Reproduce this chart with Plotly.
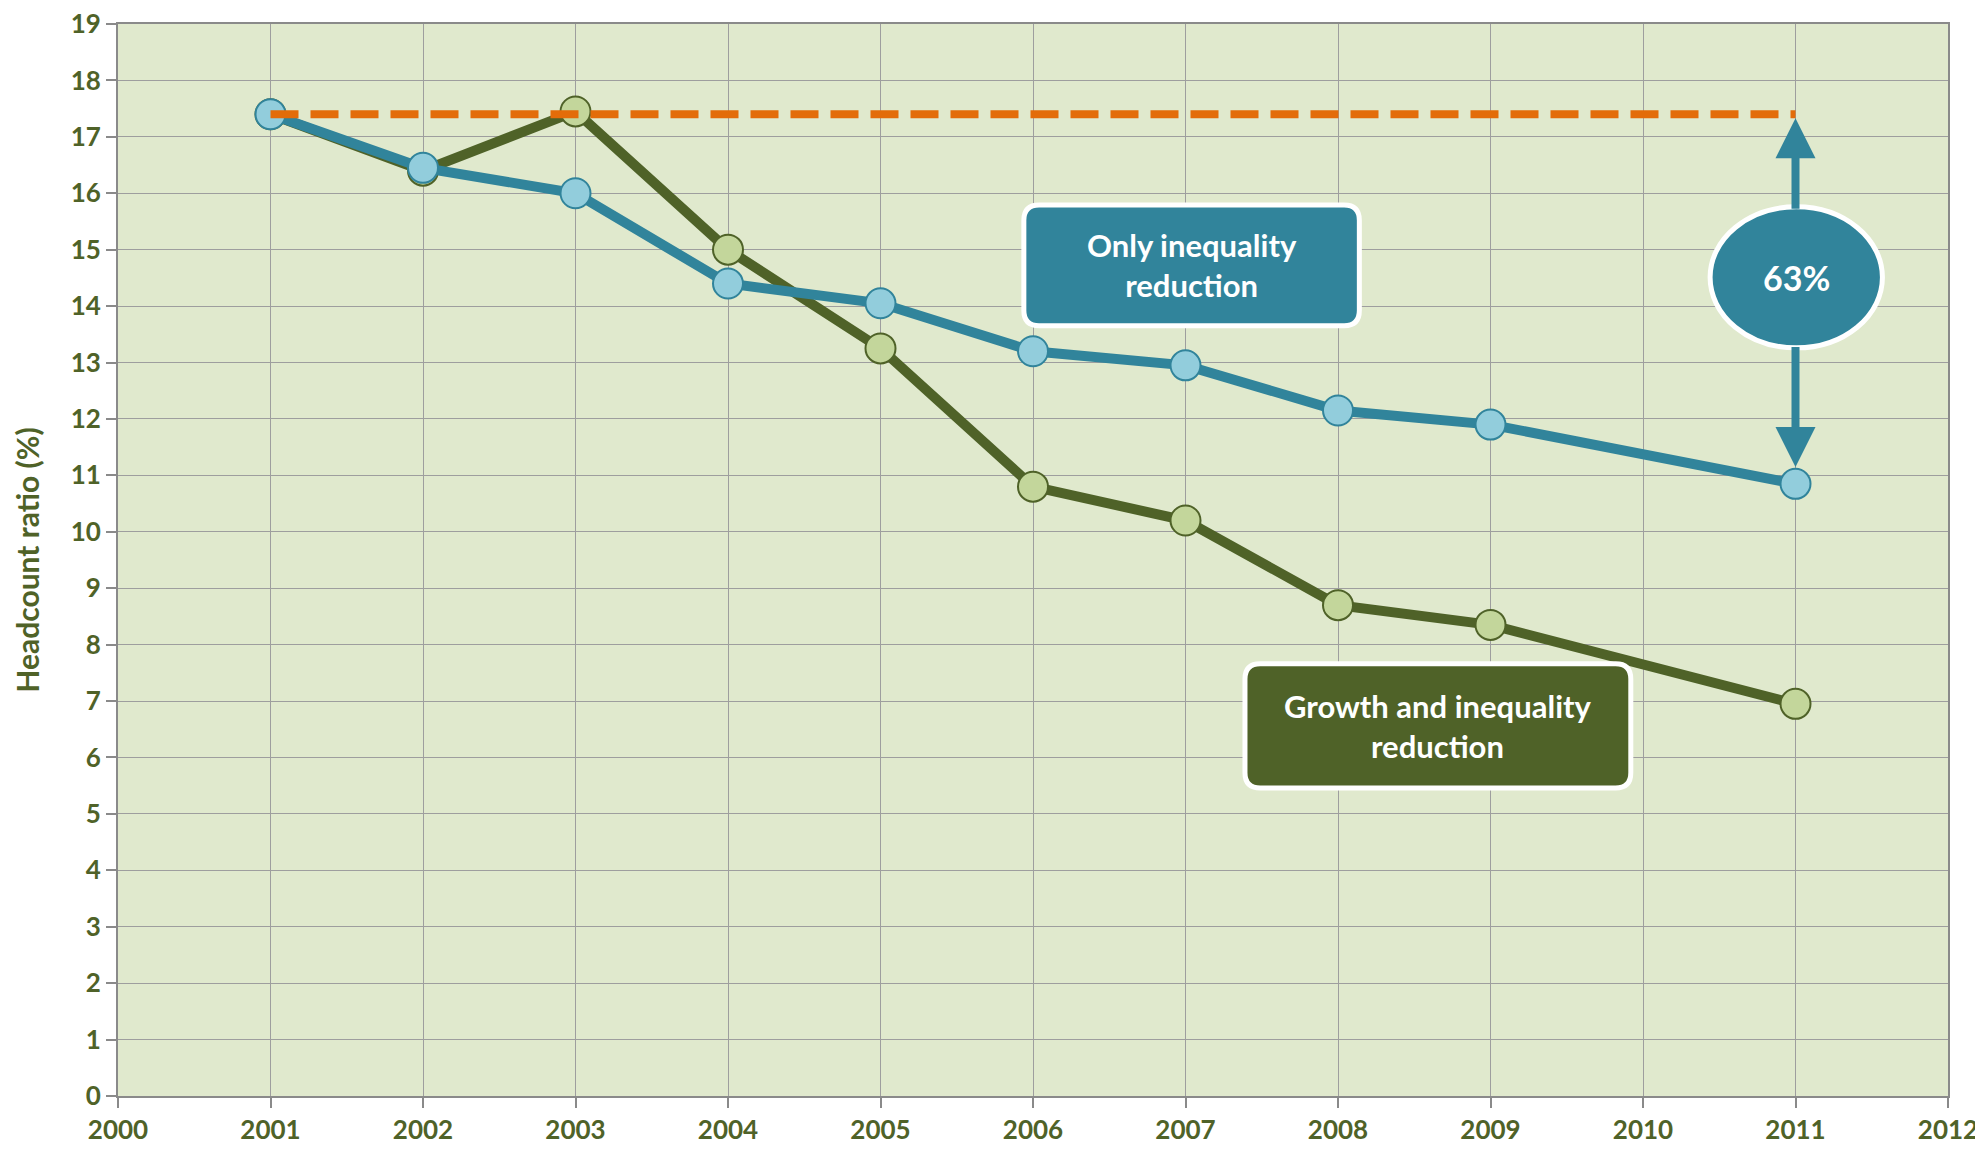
import plotly.graph_objects as go

years = [2001, 2002, 2003, 2004, 2005, 2006, 2007, 2008, 2009, 2011]
only_inequality = [17.4, 16.45, 16.0, 14.4, 14.05, 13.2, 12.95, 12.15, 11.9, 10.85]
growth_and_inequality = [17.4, 16.4, 17.45, 15.0, 13.25, 10.8, 10.2, 8.7, 8.35, 6.95]
x_ticks = list(range(2000, 2013))
y_ticks = list(range(0, 20))
reduction_label = "63%"

BLUE = "#31849B"
BLUE_LIGHT = "#92CDDC"
GREEN = "#4F6228"
GREEN_LIGHT = "#C3D69B"
ORANGE = "#E36C09"
TEXT = "#4F6228"
FONT = "Lato"

fig = go.Figure()

fig.add_trace(go.Scatter(
    x=years, y=growth_and_inequality, mode="lines+markers",
    line=dict(color=GREEN, width=10),
    marker=dict(size=30, color=GREEN_LIGHT, line=dict(color=GREEN, width=2)),
    showlegend=False, hoverinfo="x+y"))

fig.add_trace(go.Scatter(
    x=years, y=only_inequality, mode="lines+markers",
    line=dict(color=BLUE, width=10),
    marker=dict(size=30, color=BLUE_LIGHT, line=dict(color=BLUE, width=2)),
    showlegend=False, hoverinfo="x+y"))

fig.add_trace(go.Scatter(
    x=[years[0], years[-1]], y=[only_inequality[0], only_inequality[0]],
    mode="lines", line=dict(color=ORANGE, width=8, dash="28px,12px"),
    showlegend=False, hoverinfo="skip"))


def rounded_rect(x0, x1, y0, y1, rx, ry):
    return (f"M {x0+rx},{y0} L {x1-rx},{y0} Q {x1},{y0} {x1},{y0+ry} "
            f"L {x1},{y1-ry} Q {x1},{y1} {x1-rx},{y1} L {x0+rx},{y1} "
            f"Q {x0},{y1} {x0},{y1-ry} L {x0},{y0+ry} Q {x0},{y0} {x0+rx},{y0} Z")


rx, ry = 0.1, 0.27
# Blue label box
fig.add_shape(type="path", xref="x", yref="y",
              path=rounded_rect(2005.94, 2008.14, 13.65, 15.79, rx, ry),
              fillcolor=BLUE, line=dict(color="white", width=5), layer="above")
fig.add_annotation(x=2007.04, y=14.72, xref="x", yref="y",
                   text="Only inequality<br>reduction", showarrow=False,
                   font=dict(family=FONT, size=31, color="white", weight="bold"))

# Green label box
fig.add_shape(type="path", xref="x", yref="y",
              path=rounded_rect(2007.39, 2009.92, 5.46, 7.66, rx, ry),
              fillcolor=GREEN, line=dict(color="white", width=5), layer="above")
fig.add_annotation(x=2008.655, y=6.56, xref="x", yref="y",
                   text="Growth and inequality<br>reduction", showarrow=False,
                   font=dict(family=FONT, size=31, color="white", weight="bold"))

# Arrows
fig.add_annotation(x=2011, y=17.33, ax=2011, ay=15.7, xref="x", yref="y",
                   axref="x", ayref="y", text="", showarrow=True,
                   arrowhead=2, arrowsize=1, arrowwidth=8, arrowcolor=BLUE)
fig.add_annotation(x=2011, y=11.15, ax=2011, ay=13.3, xref="x", yref="y",
                   axref="x", ayref="y", text="", showarrow=True,
                   arrowhead=2, arrowsize=1, arrowwidth=8, arrowcolor=BLUE)

# Ellipse
fig.add_shape(type="circle", xref="x", yref="y",
              x0=2010.44, x1=2011.57, y0=13.26, y1=15.76,
              fillcolor=BLUE, line=dict(color="white", width=5), layer="above")
fig.add_annotation(x=2011.005, y=14.5, xref="x", yref="y", text=reduction_label,
                   showarrow=False,
                   font=dict(family=FONT, size=34, color="white", weight="bold"))

axis_common = dict(
    showgrid=True, gridcolor="#9E9E9E", gridwidth=1,
    showline=True, linecolor="#8A8A8A", linewidth=2, mirror=True,
    ticks="outside", ticklen=10, tickcolor="#8A8A8A", tickwidth=2,
    tickfont=dict(family=FONT, size=26, color=TEXT, weight="bold"),
    zeroline=False, automargin=False, ticklabeloverflow="allow",
)

fig.update_xaxes(range=[2000, 2012], tickvals=x_ticks, **axis_common)
fig.update_yaxes(range=[0, 19], tickvals=y_ticks,
                 title=dict(text="Headcount ratio (%)", standoff=22,
                            font=dict(family=FONT, size=30, color=TEXT, weight="bold")),
                 **axis_common)

# The page body adds an 8px margin, so the figure is sized to fit inside the window.
fig.update_layout(
    width=1975, height=1141,
    margin=dict(l=110, r=35, t=16, b=53),
    paper_bgcolor="white", plot_bgcolor="#E0E9CD",
    showlegend=False,
)

fig.write_html("out.html")
